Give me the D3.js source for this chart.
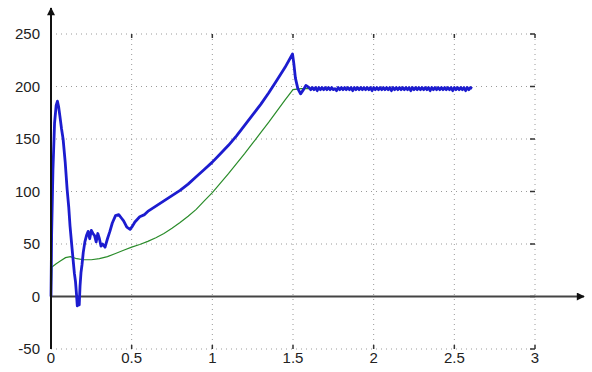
<!DOCTYPE html>
<html lang="en">
<head>
<meta charset="utf-8">
<title>Response curve</title>
<script src="https://cdn.jsdelivr.net/npm/d3@7"></script>
<style>
  body { margin: 0; background: #fff; }
  svg text { font-family: "Liberation Sans", Arial, sans-serif; font-size: 15px; fill: #222; }
</style>
</head>
<body>
<script>
// x tick values and y tick values
var xTicks = [0, 0.5, 1, 1.5, 2, 2.5, 3];
var yTicks = [-50, 0, 50, 100, 150, 200, 250];

// blue trace (measured response): times and values, up to the settling point
var blueT = [0, 0.004, 0.012, 0.022, 0.032, 0.04, 0.047, 0.055, 0.065, 0.075, 0.088, 0.1, 0.11, 0.118,
  0.128, 0.137, 0.145, 0.152, 0.158, 0.163, 0.168, 0.175, 0.18, 0.186, 0.192, 0.2, 0.21, 0.22, 0.23,
  0.24, 0.25, 0.26, 0.27, 0.28, 0.29, 0.3, 0.31, 0.32, 0.335, 0.35, 0.365, 0.38, 0.4, 0.42, 0.435,
  0.45, 0.47, 0.49, 0.505, 0.52, 0.55, 0.58, 0.6, 0.65, 0.7, 0.75, 0.8, 0.85, 0.9, 0.95, 1,
  1.05, 1.1, 1.15, 1.2, 1.25, 1.3, 1.35, 1.4, 1.45, 1.497, 1.505, 1.515, 1.53, 1.547, 1.565, 1.58, 1.6];
var blueV = [0, 60, 120, 165, 182, 186, 181, 172, 160, 150, 128, 102, 85, 67,
  50, 35, 22, 14, 2, -9, -4, -8, 10, 23, 30, 42, 52, 58, 62,
  55, 63, 60, 58, 52, 60, 55, 48, 50, 47, 55, 62, 70, 77, 78, 75,
  72, 66, 64, 67, 71, 76, 78, 81, 86, 91, 96, 101, 107, 114, 121, 128,
  136, 144, 153, 163, 173, 183, 194, 206, 218, 231, 222, 208, 198, 193, 197, 201, 199];

// blue steady-state ripple, sampled every 0.01 from 1.61 to 2.61
var rippleStart = 1.61, rippleStep = 0.01;
var rippleV = [197, 199, 197, 199, 196, 199, 197, 199, 197, 199,
  197, 199, 197, 199, 197, 198, 196, 199, 197, 199,
  197, 199, 197, 199, 197, 199, 196, 199, 197, 199,
  197, 199, 197, 199, 197, 199, 197, 199, 196, 199,
  197, 199, 197, 199, 197, 199, 197, 199, 197, 199,
  196, 199, 197, 199, 197, 199, 197, 199, 197, 199,
  197, 199, 196, 199, 197, 199, 197, 199, 197, 199,
  197, 199, 197, 199, 196, 199, 197, 199, 197, 199,
  197, 199, 197, 199, 197, 199, 197, 199, 196, 199,
  197, 199, 197, 199, 197, 199, 196, 199, 197, 199, 198];

// green trace (reference signal): times and values
var greenT = [0, 0.003, 0.006, 0.03, 0.06, 0.09, 0.12, 0.16, 0.2, 0.25, 0.3, 0.35, 0.4, 0.45, 0.5,
  0.55, 0.6, 0.65, 0.7, 0.75, 0.8, 0.85, 0.9, 0.95, 1, 1.05, 1.1, 1.15, 1.2, 1.25, 1.3, 1.35, 1.4,
  1.45, 1.5, 1.55, 1.6];
var greenV = [-30, 10, 28, 31, 34, 37, 38, 36, 35, 35, 36, 38, 41, 44, 47,
  49.5, 52.5, 56, 60, 65, 70.5, 76.5, 83, 91, 99, 108, 117, 126.5, 136, 146, 156, 166, 176.5,
  187, 197, 198, 198];

var w = 592, h = 372;
var margin = { left: 51, top: 34 };
var pw = 484, ph = 315;

var xScale = d3.scaleLinear().domain([0, 3]).range([margin.left, margin.left + pw]);
var yScale = d3.scaleLinear().domain([-50, 250]).range([margin.top + ph, margin.top]);

var svg = d3.select("body").append("svg").attr("width", w).attr("height", h);

// grid (dotted)
svg.append("g").selectAll("line").data(xTicks.slice(1)).enter().append("line")
  .attr("x1", function(d) { return xScale(d); }).attr("x2", function(d) { return xScale(d); })
  .attr("y1", yScale(250)).attr("y2", yScale(-50))
  .attr("stroke", "#9a9a9a").attr("stroke-width", 1).attr("stroke-dasharray", "1,4");
svg.append("g").selectAll("line").data(yTicks).enter().append("line")
  .attr("x1", xScale(0)).attr("x2", xScale(3))
  .attr("y1", function(d) { return yScale(d); }).attr("y2", function(d) { return yScale(d); })
  .attr("stroke", "#9a9a9a").attr("stroke-width", 1).attr("stroke-dasharray", "1,4");

// small box ticks on bottom, top and right
svg.append("g").selectAll("line").data(xTicks.slice(1)).enter().append("line")
  .attr("x1", function(d) { return xScale(d); }).attr("x2", function(d) { return xScale(d); })
  .attr("y1", yScale(-50)).attr("y2", yScale(-50) - 4)
  .attr("stroke", "#333").attr("stroke-width", 1.5);
svg.append("g").selectAll("line").data(xTicks.slice(1)).enter().append("line")
  .attr("x1", function(d) { return xScale(d); }).attr("x2", function(d) { return xScale(d); })
  .attr("y1", yScale(250)).attr("y2", yScale(250) + 4)
  .attr("stroke", "#333").attr("stroke-width", 1.5);
svg.append("g").selectAll("line").data(yTicks).enter().append("line")
  .attr("x1", xScale(3) - 5).attr("x2", xScale(3))
  .attr("y1", function(d) { return yScale(d); }).attr("y2", function(d) { return yScale(d); })
  .attr("stroke", "#333").attr("stroke-width", 1.5);

// tick labels
svg.append("g").selectAll("text").data(yTicks).enter().append("text")
  .attr("x", 40).attr("y", function(d) { return yScale(d) + 5; })
  .attr("text-anchor", "end").text(function(d) { return d; });
svg.append("g").selectAll("text").data(xTicks).enter().append("text")
  .attr("x", function(d) { return xScale(d); }).attr("y", 363)
  .attr("text-anchor", "middle").text(function(d) { return d; });

// arrow marker
svg.append("defs").append("marker").attr("id", "arrow")
  .attr("viewBox", "0 0 10 10").attr("refX", 9).attr("refY", 5)
  .attr("markerWidth", 11).attr("markerHeight", 8).attr("markerUnits", "userSpaceOnUse")
  .attr("orient", "auto")
  .append("path").attr("d", "M0,0L10,5L0,10z").attr("fill", "#111");

// x axis through zero
svg.append("line")
  .attr("x1", xScale(0)).attr("x2", 584)
  .attr("y1", yScale(0)).attr("y2", yScale(0))
  .attr("stroke", "#444").attr("stroke-width", 2).attr("marker-end", "url(#arrow)");

// curves
var line = d3.line()
  .x(function(d) { return xScale(d[0]); })
  .y(function(d) { return yScale(d[1]); });

var bluePts = d3.zip(blueT, blueV).concat(rippleV.map(function(v, i) {
  return [rippleStart + i * rippleStep, v];
}));

svg.append("path").datum(d3.zip(greenT, greenV))
  .attr("d", line).attr("fill", "none")
  .attr("stroke", "#2a8c2a").attr("stroke-width", 1.2);

svg.append("path").datum(bluePts)
  .attr("d", line).attr("fill", "none")
  .attr("stroke", "#1c1ccf").attr("stroke-width", 2.8).attr("stroke-linejoin", "round");

// y axis with arrow
svg.append("line")
  .attr("x1", xScale(0)).attr("x2", xScale(0))
  .attr("y1", yScale(-50)).attr("y2", 8)
  .attr("stroke", "#111").attr("stroke-width", 2).attr("marker-end", "url(#arrow)");
</script>
</body>
</html>
